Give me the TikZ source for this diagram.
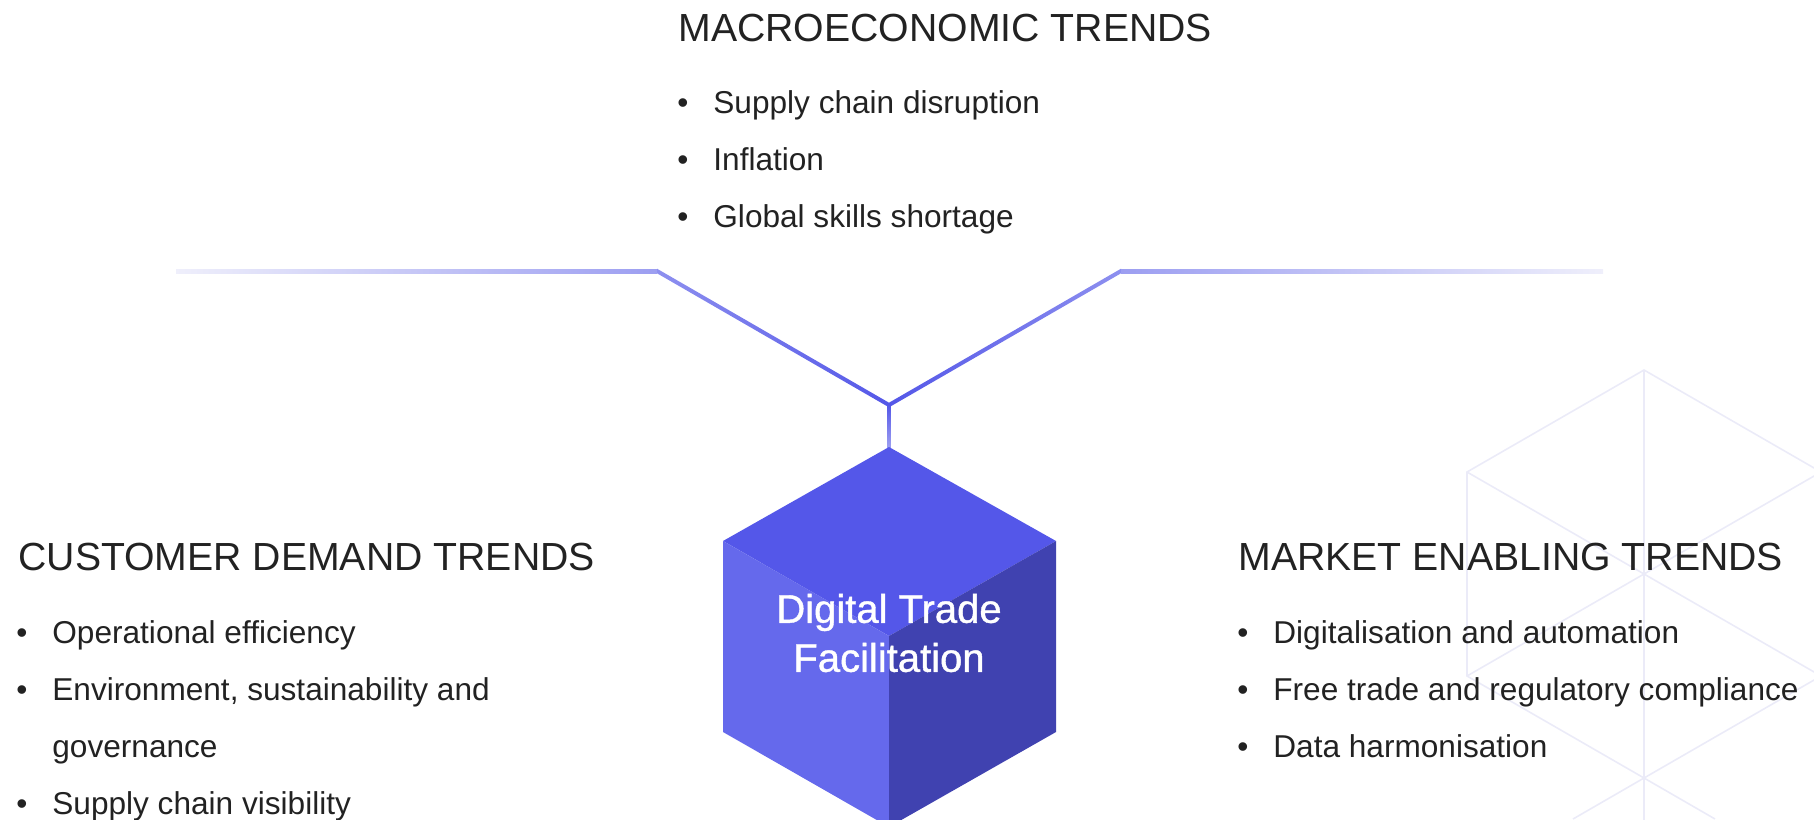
\documentclass[tikz,border=0pt]{standalone}
\usepackage{fontspec}
\setmainfont{Liberation Sans}
\newfontfamily\cubefont{Liberation Sans}[FakeBold=1]
\usetikzlibrary{calc}

\definecolor{inkdark}{HTML}{222222}
\definecolor{cubetopc}{HTML}{5457E9}
\definecolor{cubeleftc}{HTML}{6569EC}
\definecolor{cuberightc}{HTML}{4042B0}
\definecolor{linefaint}{HTML}{EFEFFB}
\definecolor{linemid}{HTML}{9C9EF1}
\definecolor{linedeep}{HTML}{5457E8}
\definecolor{gridline}{HTML}{EBEBF8}

\begin{document}
\begin{tikzpicture}[x=0.5pt, y=-0.5pt,
    heading/.style={anchor=base west, inner sep=0pt, text=inkdark, font=\fontsize{19.6pt}{23pt}\selectfont},
    item/.style={anchor=base west, inner sep=0pt, text=inkdark, font=\fontsize{15.8pt}{19pt}\selectfont},
    grid/.style={draw=gridline, line width=0.8pt}
]
\useasboundingbox (0,0) rectangle (1814,819);

% faint hexagon grid, right side
\begin{scope}
\clip (0,0) rectangle (1814,819);
\draw[grid] (1644,370) -- (1467,472) -- (1467,676) -- (1644,778) -- (1821,676) -- (1821,472) -- cycle;
\draw[grid] (1644,370) -- (1644,830);
\draw[grid] (1467,472) -- (1821,676);
\draw[grid] (1467,676) -- (1821,472);
\draw[grid] (1573,819) -- (1644,778) -- (1715,819);
\end{scope}

% branch points of the connector
\coordinate (leftend) at (176,271);
\coordinate (leftbend) at (657,271);
\coordinate (hub) at (889,405);
\coordinate (rightbend) at (1121,271);
\coordinate (rightend) at (1603,271);
\coordinate (cubetop) at (889,447);

\shade[left color=linefaint, right color=linemid] ($(leftend)+(0,-2)$) rectangle ($(leftbend)+(0,2)$);
\shade[left color=linemid!80!linedeep, right color=linedeep]
    ($(leftbend)+(0,-2.3)$) -- ($(hub)+(0,-2.3)$) -- ($(hub)+(0,2.3)$) -- ($(leftbend)+(0,2.3)$) -- cycle;
\shade[left color=linedeep, right color=linemid!80!linedeep]
    ($(hub)+(0,-2.3)$) -- ($(rightbend)+(0,-2.3)$) -- ($(rightbend)+(0,2.3)$) -- ($(hub)+(0,2.3)$) -- cycle;
\shade[left color=linemid, right color=linefaint] ($(rightbend)+(0,-2)$) rectangle ($(rightend)+(0,2)$);
\shade[top color=linedeep, bottom color=linemid] ($(hub)+(-1.8,0)$) rectangle ($(cubetop)+(1.8,0)$);

% the cube
\coordinate (cl) at (723,541);
\coordinate (cr) at (1056,541);
\coordinate (cc) at (889,636);
\coordinate (cll) at (723,732);
\coordinate (crl) at (1056,732);
\coordinate (cbot) at (889,827);
\fill[cubetopc] (cubetop) -- (cr) -- (cc) -- (cl) -- cycle;
\fill[cubeleftc] (cl) -- (cc) -- (cbot) -- (cll) -- cycle;
\fill[cuberightc] (cc) -- (cr) -- (crl) -- (cbot) -- cycle;
\node[align=center, text=white, inner sep=0pt, font=\cubefont\fontsize{20pt}{24.5pt}\selectfont] (hubtext) at (889,633) {Digital Trade\\Facilitation};

% top group
\node[heading] (macro) at (678,41) {MACROECONOMIC TRENDS};
\foreach \txt [count=\i from 0] in {Supply chain disruption, Inflation, Global skills shortage}
    \node[item] (macro\i) at (677,113+57*\i) {\makebox[18pt][l]{\textbullet}\txt};

% left group
\node[heading] (customer) at (18,570) {CUSTOMER DEMAND TRENDS};
\node[item] (customer0) at (16,643) {\makebox[18pt][l]{\textbullet}Operational efficiency};
\node[item] (customer1) at (16,700) {\makebox[18pt][l]{\textbullet}Environment, sustainability and};
\node[item] (customer2) at (16,757) {\makebox[18pt][l]{}governance};
\node[item] (customer3) at (16,814) {\makebox[18pt][l]{\textbullet}Supply chain visibility};

% right group
\node[heading] (market) at (1238,570) {MARKET ENABLING TRENDS};
\foreach \txt [count=\i from 0] in {Digitalisation and automation, Free trade and regulatory compliance, Data harmonisation}
    \node[item] (market\i) at (1237,643+57*\i) {\makebox[18pt][l]{\textbullet}\txt};
\end{tikzpicture}
\end{document}
